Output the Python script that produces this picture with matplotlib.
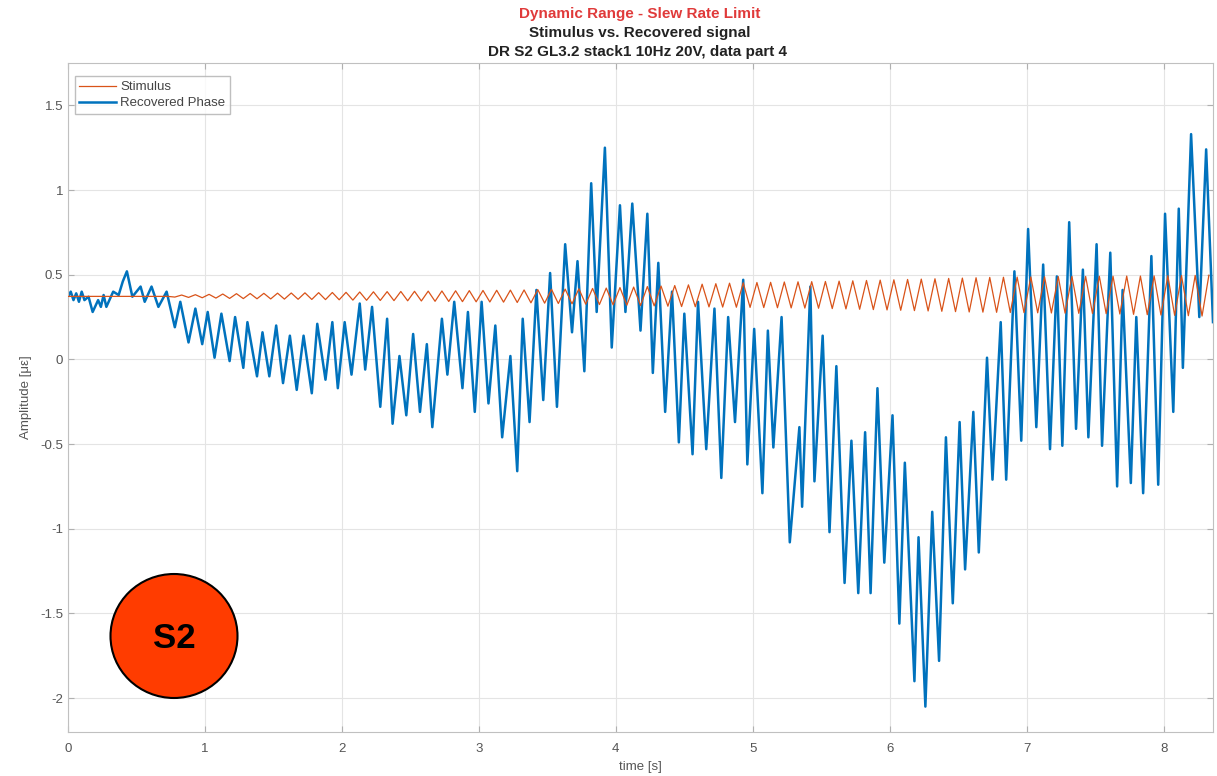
import numpy as np
import matplotlib
matplotlib.use('Agg')
import matplotlib.pyplot as plt
from matplotlib.patches import Ellipse

plt.rcParams['font.family'] = ['Liberation Sans', 'DejaVu Sans']

# Stimulus: flat start, then 10 Hz sine with slowly growing amplitude
stim_flat_t = [0.0, 0.73]
stim_flat_v = [0.372, 0.372]
stim_troughs = [0.368, 0.366, 0.364, 0.362, 0.360, 0.359, 0.358, 0.357, 0.356, 0.355,
                0.354, 0.353, 0.352, 0.350, 0.349, 0.348, 0.347, 0.346, 0.345, 0.343,
                0.342, 0.341, 0.340, 0.339, 0.338, 0.336, 0.334, 0.332, 0.330, 0.328,
                0.326, 0.324, 0.322, 0.320, 0.318, 0.316, 0.314, 0.312, 0.311, 0.310,
                0.309, 0.308, 0.307, 0.306, 0.305, 0.304, 0.303, 0.302, 0.300, 0.298,
                0.296, 0.294, 0.292, 0.290, 0.288, 0.286, 0.284, 0.282, 0.280, 0.279,
                0.278, 0.277, 0.276, 0.275, 0.274, 0.273, 0.272, 0.271, 0.270, 0.268,
                0.266, 0.264, 0.262, 0.260, 0.258, 0.256]
stim_peaks = [0.380, 0.382, 0.384, 0.386, 0.388, 0.389, 0.390, 0.391, 0.392, 0.393,
              0.394, 0.395, 0.396, 0.398, 0.399, 0.400, 0.401, 0.402, 0.403, 0.404,
              0.405, 0.406, 0.407, 0.408, 0.409, 0.410, 0.412, 0.414, 0.415, 0.417,
              0.419, 0.421, 0.424, 0.427, 0.430, 0.433, 0.436, 0.440, 0.444, 0.447,
              0.450, 0.452, 0.454, 0.455, 0.457, 0.458, 0.459, 0.460, 0.462, 0.464,
              0.466, 0.468, 0.470, 0.472, 0.474, 0.476, 0.478, 0.480, 0.482, 0.484,
              0.485, 0.486, 0.487, 0.488, 0.489, 0.490, 0.490, 0.491, 0.491, 0.492,
              0.492, 0.493, 0.494, 0.495, 0.496, 0.497]

# Recovered phase (time, value) at its turning points
rec_t = [0.00, 0.02, 0.04, 0.06, 0.08, 0.10, 0.12, 0.15, 0.18, 0.22,
         0.24, 0.26, 0.28, 0.33, 0.37, 0.40, 0.43, 0.47, 0.53, 0.56,
         0.61, 0.66, 0.72, 0.78, 0.82, 0.88, 0.93, 0.98, 1.02, 1.07,
         1.12, 1.18, 1.22, 1.28, 1.31, 1.38, 1.42, 1.47, 1.52, 1.57,
         1.62, 1.67, 1.72, 1.78, 1.82, 1.88, 1.93, 1.97, 2.02, 2.07,
         2.13, 2.17, 2.22, 2.28, 2.33, 2.37, 2.42, 2.47, 2.52, 2.57,
         2.62, 2.66, 2.73, 2.77, 2.82, 2.88, 2.92, 2.97, 3.02, 3.07,
         3.12, 3.17, 3.23, 3.28, 3.32, 3.37, 3.42, 3.47, 3.52, 3.57,
         3.63, 3.68, 3.72, 3.77, 3.82, 3.86, 3.92, 3.97, 4.03, 4.07,
         4.12, 4.18, 4.23, 4.27, 4.31, 4.36, 4.41, 4.46, 4.50, 4.56,
         4.60, 4.66, 4.72, 4.77, 4.82, 4.87, 4.93, 4.96, 5.01, 5.07,
         5.11, 5.15, 5.21, 5.27, 5.34, 5.36, 5.42, 5.45, 5.51, 5.56,
         5.61, 5.67, 5.72, 5.77, 5.82, 5.86, 5.91, 5.96, 6.02, 6.07,
         6.11, 6.18, 6.21, 6.26, 6.31, 6.36, 6.41, 6.46, 6.51, 6.55,
         6.61, 6.65, 6.71, 6.75, 6.81, 6.85, 6.91, 6.96, 7.01, 7.07,
         7.12, 7.17, 7.22, 7.26, 7.31, 7.36, 7.41, 7.45, 7.51, 7.55,
         7.61, 7.66, 7.70, 7.76, 7.80, 7.85, 7.91, 7.96, 8.01, 8.07,
         8.11, 8.14, 8.20, 8.26, 8.31, 8.36]
rec_v = [0.37, 0.40, 0.35, 0.39, 0.34, 0.40, 0.35, 0.37, 0.28, 0.35,
         0.31, 0.38, 0.31, 0.40, 0.38, 0.46, 0.52, 0.37, 0.43, 0.34,
         0.43, 0.31, 0.40, 0.19, 0.34, 0.10, 0.30, 0.09, 0.28, 0.01,
         0.27, -0.01, 0.25, -0.05, 0.22, -0.10, 0.16, -0.10, 0.20, -0.14,
         0.14, -0.18, 0.14, -0.20, 0.21, -0.12, 0.22, -0.17, 0.22, -0.09,
         0.33, -0.06, 0.31, -0.28, 0.24, -0.38, 0.02, -0.33, 0.15, -0.31,
         0.09, -0.40, 0.24, -0.09, 0.34, -0.17, 0.28, -0.31, 0.34, -0.26,
         0.20, -0.46, 0.02, -0.66, 0.24, -0.37, 0.41, -0.24, 0.51, -0.28,
         0.68, 0.16, 0.58, -0.07, 1.04, 0.28, 1.25, 0.07, 0.91, 0.28,
         0.92, 0.17, 0.86, -0.08, 0.57, -0.31, 0.40, -0.49, 0.27, -0.56,
         0.34, -0.53, 0.30, -0.70, 0.25, -0.37, 0.47, -0.62, 0.18, -0.79,
         0.17, -0.52, 0.25, -1.08, -0.40, -0.87, 0.43, -0.72, 0.14, -1.02,
         -0.04, -1.32, -0.48, -1.38, -0.43, -1.38, -0.17, -1.20, -0.33, -1.56,
         -0.61, -1.90, -1.05, -2.05, -0.90, -1.78, -0.46, -1.44, -0.37, -1.24,
         -0.31, -1.14, 0.01, -0.71, 0.22, -0.71, 0.52, -0.48, 0.77, -0.40,
         0.56, -0.53, 0.49, -0.51, 0.81, -0.41, 0.53, -0.46, 0.68, -0.51,
         0.63, -0.75, 0.41, -0.73, 0.25, -0.79, 0.61, -0.74, 0.86, -0.31,
         0.89, -0.05, 1.33, 0.25, 1.24, 0.22]

# assemble stimulus line: troughs at .78, .88, ... and peaks half a period later
trough_t = np.round(np.arange(0.78, 8.30, 0.1), 2)
peak_t = trough_t + 0.05
stim_t = np.concatenate([stim_flat_t, np.column_stack([trough_t, peak_t]).ravel()])
stim_v = np.concatenate([stim_flat_v, np.column_stack([stim_troughs, stim_peaks]).ravel()])

fig = plt.figure(figsize=(12.17, 7.76), dpi=100)
ax = fig.add_axes([68 / 1217, 1 - 732 / 776, 1145 / 1217, 669 / 776])

ax.plot(rec_t, rec_v, color='#0072BD', lw=1.8, label='Recovered Phase', zorder=2)
ax.plot(stim_t, stim_v, color='#D95319', lw=0.9, label='Stimulus', zorder=3)

ax.set_xlim(0, 8.36)
ax.set_ylim(-2.2, 1.75)
ax.set_xticks(range(0, 9))
ax.set_yticks([-2, -1.5, -1, -0.5, 0, 0.5, 1, 1.5])
ax.set_yticklabels(['-2', '-1.5', '-1', '-0.5', '0', '0.5', '1', '1.5'])
ax.grid(True, color='#e4e4e4', lw=0.8)
ax.set_axisbelow(True)
ax.tick_params(direction='in', length=4, colors='#b0b0b0', labelcolor='#555555',
               labelsize=9.5, top=True, right=True)
ax.tick_params(axis='x', pad=8)
for s in ax.spines.values():
    s.set_color('#c0c0c0')

ax.set_xlabel('time [s]', fontsize=9.5, color='#555555', labelpad=4)
ax.set_ylabel('Amplitude [\u03bc\u03b5]', fontsize=9.5, color='#555555', labelpad=6)

# three-line title, first line in red
fig.text(0.526, 1 - 14 / 776, 'Dynamic Range - Slew Rate Limit', ha='center', va='center',
         fontsize=11, fontweight='bold', color='#E03A3A')
fig.text(0.526, 1 - 33 / 776, 'Stimulus vs. Recovered signal', ha='center', va='center',
         fontsize=11, fontweight='bold', color='#222222')
fig.text(0.524, 1 - 52 / 776, 'DR S2 GL3.2 stack1 10Hz 20V, data part 4', ha='center', va='center',
         fontsize=11, fontweight='bold', color='#222222')

handles, labels = ax.get_legend_handles_labels()
leg = ax.legend(handles[::-1], labels[::-1], loc='upper left', fontsize=9.5, frameon=True,
                fancybox=False, edgecolor='#b0b0b0', borderpad=0.35, handlelength=2.8,
                handletextpad=0.3, labelspacing=0.3, bbox_to_anchor=(0.0, 0.99))
for t in leg.get_texts():
    t.set_color('#444444')

# S2 badge
fig.patches.append(Ellipse((174 / 1217, 1 - 636 / 776), 127 / 1217, 124 / 776,
                           transform=fig.transFigure, facecolor='#FF3C00',
                           edgecolor='black', lw=1.5, zorder=10))
fig.text(174 / 1217, 1 - 638 / 776, 'S2', ha='center', va='center', fontsize=25,
         fontweight='bold', color='black', zorder=11)

fig.savefig('out.png', dpi=100)
